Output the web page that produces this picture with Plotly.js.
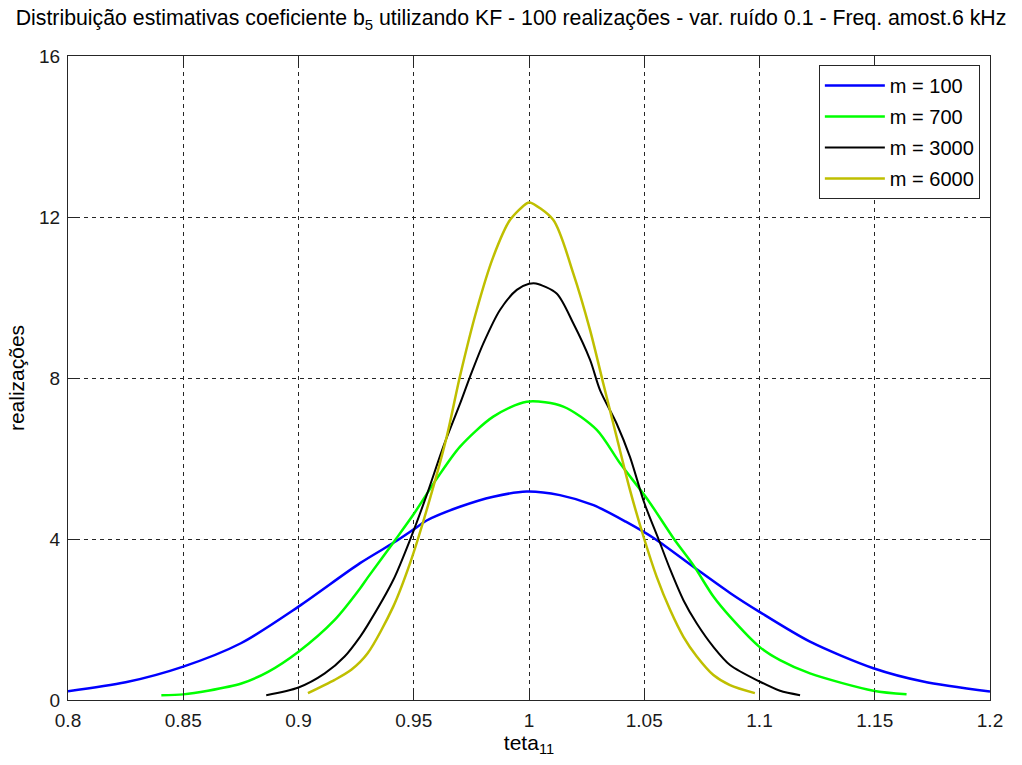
<!DOCTYPE html>
<html>
<head>
<meta charset="utf-8">
<script src="https://cdn.plot.ly/plotly-3.0.1.min.js"></script>
<style>html,body{margin:0;padding:0;background:#fff;}#chart{width:1022px;height:765px;}</style>
</head>
<body>
<div id="chart"></div>
<script>
const seriesNames = ["m = 100", "m = 700", "m = 3000", "m = 6000"];

const x100 = [0.800,0.825,0.850,0.875,0.900,0.9267,0.9419,0.950,0.9556,0.970,0.9845,0.999,1.0134,1.028,1.042,1.0547,1.0713,1.0872,1.100,1.1219,1.1494,1.171,1.200];
const y100 = [0.22,0.44,0.83,1.41,2.32,3.40,3.93,4.24,4.46,4.80,5.05,5.18,5.09,4.84,4.43,4.00,3.31,2.66,2.19,1.45,0.79,0.46,0.21];

const x700 = [0.8405,0.850,0.8607,0.8752,0.8868,0.900,0.9157,0.9267,0.930,0.9419,0.950,0.960,0.970,0.9845,0.999,1.0149,1.0294,1.0395,1.0516,1.0629,1.0713,1.080,1.0872,1.100,1.1089,1.1219,1.1494,1.1638];
const y700 = [0.12,0.14,0.23,0.41,0.70,1.20,1.99,2.77,3.04,3.97,4.62,5.50,6.29,7.04,7.41,7.29,6.71,5.88,4.97,4.00,3.35,2.57,2.07,1.32,0.99,0.66,0.23,0.14];

const x3000 = [0.886,0.900,0.9114,0.920,0.9267,0.930,0.9411,0.9484,0.9556,0.9628,0.970,0.9744,0.9802,0.9874,0.9947,1.000,1.003,1.012,1.0192,1.0265,1.0308,1.038,1.0438,1.050,1.0565,1.0612,1.067,1.0728,1.080,1.0872,1.100,1.1089,1.1176];
const y3000 = [0.12,0.31,0.66,1.08,1.57,1.86,2.98,3.98,5.09,6.29,7.35,8.03,8.86,9.69,10.19,10.34,10.35,10.10,9.36,8.45,7.70,6.87,6.04,4.90,3.95,3.25,2.48,1.90,1.32,0.87,0.46,0.23,0.12];

const x6000 = [0.9041,0.9157,0.9229,0.930,0.9411,0.9484,0.9556,0.9643,0.970,0.9773,0.9845,0.9918,0.999,1.0004,1.0105,1.0192,1.0265,1.0322,1.038,1.0438,1.050,1.0554,1.0612,1.067,1.0728,1.080,1.0872,1.098];
const y6000 = [0.17,0.50,0.75,1.16,2.32,3.40,4.72,6.54,8.03,9.69,11.01,11.93,12.34,12.36,11.93,10.60,9.19,7.87,6.54,5.22,4.00,3.06,2.24,1.57,1.08,0.62,0.37,0.17];

const xTickVals = [0.8,0.85,0.9,0.95,1,1.05,1.1,1.15,1.2];
const xTickText = ["0.8","0.85","0.9","0.95","1","1.05","1.1","1.15","1.2"];
const yTickVals = [0,4,8,12,16];
const yTickText = ["0","4","8","12","16"];

const colors = ["#0000ff", "#00ff00", "#000000", "#bfbf00"];
const widths = [2.5, 2.5, 2, 2.5];
const xs = [x100, x700, x3000, x6000];
const ys = [y100, y700, y3000, y6000];

const traces = seriesNames.map((n, i) => ({
  x: xs[i], y: ys[i], name: n, type: "scatter", mode: "lines",
  legendgroup: "g" + i,
  line: {color: colors[i], width: widths[i], shape: "spline", smoothing: 0.8}
}));

const font = "Liberation Sans, Arial, sans-serif";
const axisCommon = {
  showline: true, linecolor: "#262626", linewidth: 1, mirror: "ticks",
  ticks: "inside", ticklen: 9, tickcolor: "#262626",
  showgrid: true, gridcolor: "#262626", griddash: "4px,4px", gridwidth: 1,
  zeroline: false, tickfont: {family: font, size: 19, color: "#1a1a1a"}
};

const layout = {
  width: 1022, height: 765,
  margin: {l: 68, r: 32, t: 56, b: 65},
  paper_bgcolor: "#ffffff", plot_bgcolor: "#ffffff",
  showlegend: true,
  title: {text: "Distribuição estimativas coeficiente b<sub>5</sub> utilizando KF - 100 realizações - var. ruído 0.1 - Freq. amost.6 kHz",
          font: {family: font, size: 21.3, color: "#000"}, x: 0.5, xref: "container", y: 0.977, yanchor: "middle"},
  xaxis: Object.assign({}, axisCommon, {
    range: [0.8, 1.2], tickmode: "array", tickvals: xTickVals, ticktext: xTickText,
    ticklabelstandoff: 3,
    title: {text: "teta<sub>11</sub>", font: {family: font, size: 21, color: "#000"}, standoff: 4}
  }),
  yaxis: Object.assign({}, axisCommon, {
    range: [0, 16], tickmode: "array", tickvals: yTickVals, ticktext: yTickText,
    ticklabelstandoff: 3,
    title: {text: "realizações", font: {family: font, size: 21, color: "#000"}, standoff: 8}
  }),
  legend: {
    x: 0.989, y: 0.986, xanchor: "right", yanchor: "top",
    bgcolor: "#ffffff", bordercolor: "#262626", borderwidth: 1,
    font: {family: font, size: 20, color: "#000"},
    tracegroupgap: 2, itemwidth: 60
  }
};

Plotly.newPlot("chart", traces, layout, {displayModeBar: false, staticPlot: true});
</script>
</body>
</html>
